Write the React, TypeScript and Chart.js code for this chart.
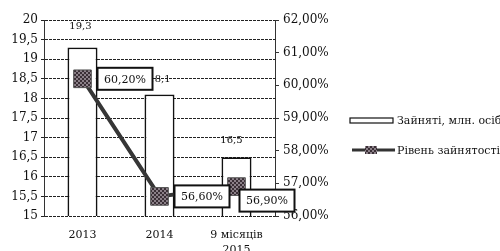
import React, { useEffect, useRef } from "react";
import { Chart, registerables } from "chart.js";

Chart.register(...registerables);

const categories: (string | string[])[] = ["2013", "2014", ["9 місяців", "2015"]];
const employed = [19.3, 18.1, 16.5];
const employmentRate = [60.2, 56.6, 56.9];
const barSeriesName = "Зайняті, млн. осіб";
const lineSeriesName = "Рівень зайнятості";
const leftMin = 15;
const leftMax = 20;
const leftStep = 0.5;
const rightMin = 56;
const rightMax = 62;
const rightStep = 1;

// label placement offsets (styling)
const barLabelDx = [-2, 0, -5];
const barLabelDy = [-21, -15, -17];
const rateLabelDx = [15, 15, 3];
const rateLabelDy = [0, 0, 14];

const FONT = "'DejaVu Serif', 'Liberation Serif', serif";

const comma = (v: number, d: number) => v.toFixed(d).replace(".", ",");

function makePattern(): CanvasPattern | string {
  const c = document.createElement("canvas");
  c.width = 4;
  c.height = 4;
  const g = c.getContext("2d");
  if (!g) return "#5a4e55";
  g.fillStyle = "#8b8088";
  g.fillRect(0, 0, 4, 4);
  g.fillStyle = "#3a2f36";
  g.fillRect(0, 0, 2, 2);
  g.fillRect(2, 2, 2, 2);
  const p = g.createPattern(c, "repeat");
  return p || "#5a4e55";
}

export default function App() {
  const ref = useRef<HTMLCanvasElement>(null);

  useEffect(() => {
    document.body.style.margin = "0";
    const canvas = ref.current;
    if (!canvas) return;
    const pattern = makePattern();

    const labelsPlugin = {
      id: "labels",
      afterDatasetsDraw(chart: any) {
        const ctx = chart.ctx as CanvasRenderingContext2D;
        ctx.save();
        ctx.textAlign = "center";
        ctx.textBaseline = "middle";
        ctx.fillStyle = "#111";
        ctx.font = `10px ${FONT}`;
        chart.getDatasetMeta(0).data.forEach((el: any, i: number) => {
          ctx.fillText(comma(employed[i], 1), el.x + barLabelDx[i], el.y + barLabelDy[i]);
        });
        ctx.font = `11px ${FONT}`;
        chart.getDatasetMeta(1).data.forEach((el: any, i: number) => {
          const w = 55;
          const h = 22;
          const bx = el.x + rateLabelDx[i];
          const by = el.y + rateLabelDy[i] - h / 2;
          ctx.fillStyle = "#fff";
          ctx.fillRect(bx, by, w, h);
          ctx.lineWidth = 2;
          ctx.strokeStyle = "#111";
          ctx.strokeRect(bx, by, w, h);
          ctx.fillStyle = "#111";
          ctx.fillText(comma(employmentRate[i], 2) + "%", bx + w / 2, by + h / 2 + 1);
        });
        ctx.restore();
      },
      afterDraw(chart: any) {
        const ctx = chart.ctx as CanvasRenderingContext2D;
        ctx.save();
        // bar legend
        ctx.fillStyle = "#fff";
        ctx.fillRect(350, 118, 43, 5);
        ctx.strokeStyle = "#111";
        ctx.lineWidth = 1.2;
        ctx.strokeRect(350, 118, 43, 5);
        // line legend
        ctx.strokeStyle = "#333";
        ctx.lineWidth = 3;
        ctx.beginPath();
        ctx.moveTo(352, 150);
        ctx.lineTo(395, 150);
        ctx.stroke();
        ctx.fillStyle = pattern as any;
        ctx.fillRect(365, 146, 12, 8);
        ctx.fillStyle = "#111";
        ctx.font = `11px ${FONT}`;
        ctx.textAlign = "left";
        ctx.textBaseline = "middle";
        ctx.fillText(barSeriesName, 397, 121);
        ctx.fillText(lineSeriesName, 397, 151);
        ctx.restore();
      },
    };

    const chart = new Chart(canvas, {
      data: {
        labels: categories as any,
        datasets: [
          {
            type: "bar",
            label: barSeriesName,
            data: employed,
            yAxisID: "y",
            backgroundColor: "#ffffff",
            borderColor: "#111",
            borderWidth: 1.8,
            borderSkipped: false,
            categoryPercentage: 1,
            barPercentage: 0.39,
            order: 2,
          } as any,
          {
            type: "line",
            label: lineSeriesName,
            data: employmentRate,
            yAxisID: "y1",
            borderColor: "#363636",
            borderWidth: 4,
            pointStyle: "rect",
            pointRadius: 12.5,
            pointBackgroundColor: pattern as any,
            pointBorderColor: "#555",
            pointBorderWidth: 1,
            order: 1,
          } as any,
        ],
      },
      options: {
        responsive: false,
        animation: false,
        layout: { padding: { top: 20, left: 0, right: 0, bottom: 0 } },
        plugins: {
          legend: { display: false },
          tooltip: { enabled: false },
        },
        scales: {
          x: {
            grid: { display: false },
            border: { display: false },
            ticks: {
              color: "#111",
              font: { family: FONT, size: 11, lineHeight: 1.35 },
              padding: 4,
              maxRotation: 0,
              autoSkip: false,
            },
            afterFit(axis: any) {
              axis.height = 35;
            },
          },
          y: {
            position: "left",
            min: leftMin,
            max: leftMax,
            ticks: {
              stepSize: leftStep,
              color: "#111",
              font: { family: FONT, size: 12 },
              padding: 3,
              callback: (v: any) => comma(Number(v), Number(v) % 1 === 0 ? 0 : 1),
            },
            grid: { color: "#222", lineWidth: 1, tickLength: 3 },
            border: { display: true, color: "#333", dash: [3, 1] },
            afterFit(axis: any) {
              axis.width = 44;
            },
          },
          y1: {
            position: "right",
            min: rightMin,
            max: rightMax,
            ticks: {
              stepSize: rightStep,
              color: "#111",
              font: { family: FONT, size: 12 },
              padding: 4,
              callback: (v: any) => comma(Number(v), 2) + "%",
            },
            grid: { drawOnChartArea: false, color: "#333", tickLength: 4 },
            border: { display: true, color: "#333", dash: [2, 1] },
            afterFit(axis: any) {
              axis.width = 225;
            },
          },
        },
      },
      plugins: [labelsPlugin],
    });
    return () => chart.destroy();
  }, []);

  return <canvas ref={ref} width={500} height={251} />;
}
